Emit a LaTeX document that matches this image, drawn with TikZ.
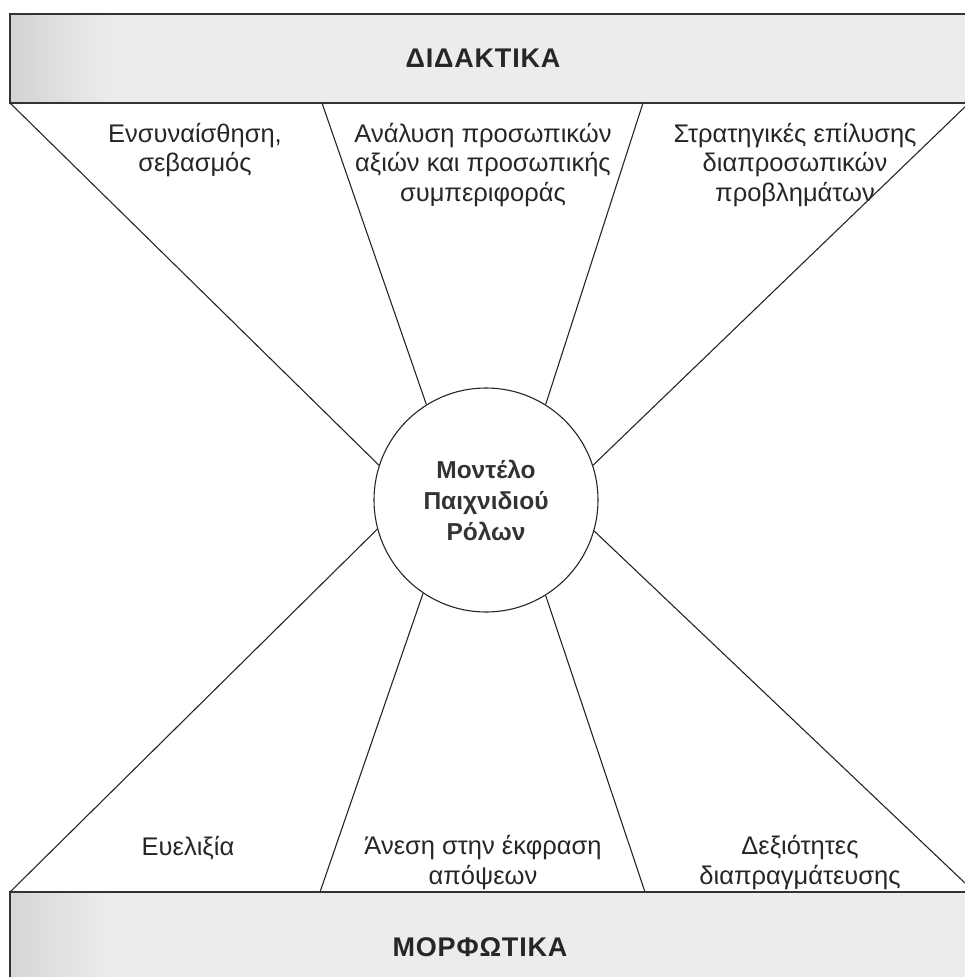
\documentclass[tikz,border=0pt]{standalone}
\usepackage{fontspec}
\setmainfont{Liberation Sans}
\begin{document}
\begin{tikzpicture}[x=1pt,y=-1pt,
  lbl/.style={font=\fontsize{25.5}{29.5}\selectfont, align=center, anchor=base, inner sep=0pt, text=black!85},
  spoke/.style={draw=black!85, line width=1.1pt},
  bandedge/.style={draw=black!80, line width=1.6pt},
  bandfill/.style={fill=gray!15},
  title/.style={font=\fontsize{27}{30}\selectfont\bfseries\addfontfeatures{LetterSpace=3}, inner sep=0pt, text=black!85},
  hub/.style={draw=black!85, circle, line width=1.1pt, minimum size=224pt, inner sep=0pt, align=center,
    font=\fontsize{24.5}{31}\selectfont\bfseries, text=black!80}
]
\useasboundingbox (0,0) rectangle (965,977);
\clip (0,0) rectangle (965,977);

% bands
\fill[bandfill] (10,14) rectangle (975,103);
\shade[left color=gray!35, right color=gray!15] (10,14) rectangle (110,103);
\draw[bandedge] (975,14) -- (10,14) -- (10,103) -- (975,103);
\fill[bandfill] (10,892) rectangle (975,985);
\shade[left color=gray!32, right color=gray!15] (10,892) rectangle (110,985);
\draw[bandedge] (975,892) -- (10,892) -- (10,985);

\node[title] (didaktika) at (483,58) {ΔΙΔΑΚΤΙΚΑ};
\node[title] (morfotika) at (480,947) {ΜΟΡΦΩΤΙΚΑ};

% hub
\node[hub] (c) at (486,500) {Μοντέλο\\Παιχνιδιού\\Ρόλων};

% spoke ends
\coordinate (t1) at (10,103);
\coordinate (t2) at (322,103);
\coordinate (t3) at (643,103);
\coordinate (t4) at (968,104);
\coordinate (b1) at (10,892);
\coordinate (b2) at (320,892);
\coordinate (b3) at (645,892);
\coordinate (b4) at (965,883);

\draw[spoke] (t1) -- (c.162);
\draw[spoke] (t2) -- (c.122);
\draw[spoke] (t3) -- (c.58.5);
\draw[spoke] (t4) -- (c.18.7);
\draw[spoke] (b1) -- (c.195.3);
\draw[spoke] (b2) -- (c.236.4);
\draw[spoke] (b3) -- (c.302.7);
\draw[spoke] (b4) -- (c.344.7);

% labels (anchor = baseline of last line)
\node[lbl] (l1) at (195,171.5) {Ενσυναίσθηση,\\σεβασμός};
\node[lbl] (l2) at (483,201) {Ανάλυση προσωπικών\\αξιών και προσωπικής\\συμπεριφοράς};
\node[lbl] (l3) at (795,201) {Στρατηγικές επίλυσης\\διαπροσωπικών\\προβλημάτων};
\node[lbl] (l4) at (188,855) {Ευελιξία};
\node[lbl] (l5) at (483,884) {Άνεση στην έκφραση\\απόψεων};
\node[lbl] (l6) at (800,884) {Δεξιότητες\\διαπραγμάτευσης};
\end{tikzpicture}
\end{document}
